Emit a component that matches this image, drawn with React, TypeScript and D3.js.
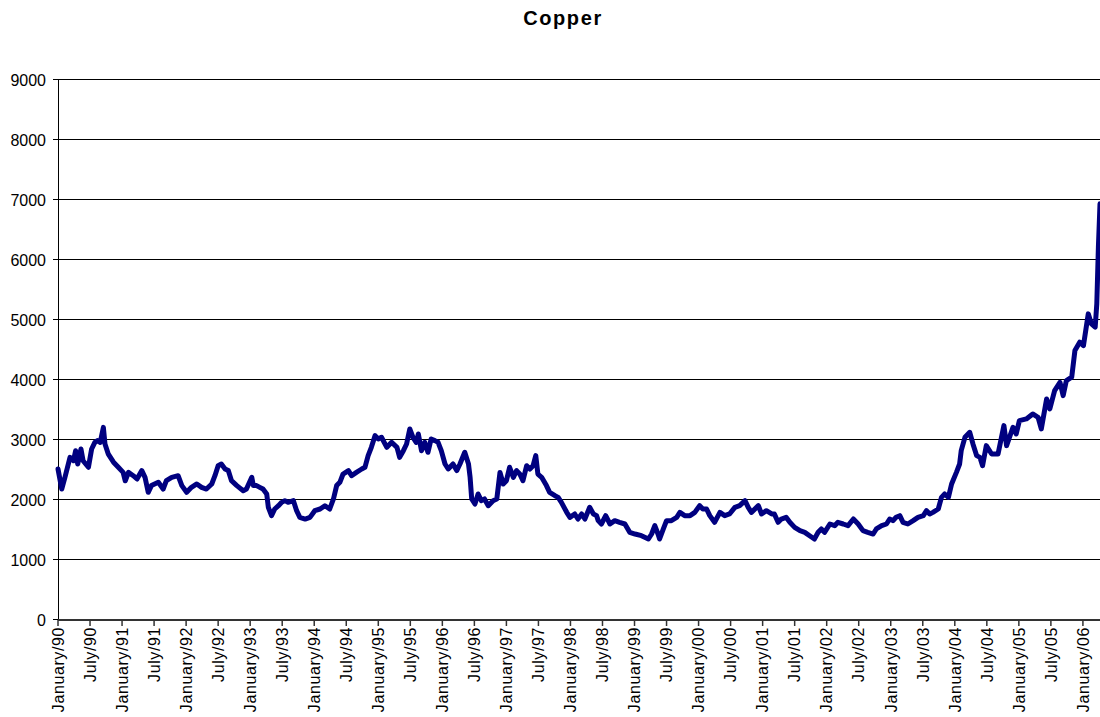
import React from "react";
import * as d3 from "d3";

// months elapsed since January 1990 (fractional) and copper price
const months = [
  0, 0.7, 1.3, 2.25, 2.9, 3.3, 3.7, 4.3, 4.7, 5.7, 6.3, 6.9, 7.4, 7.9, 8.5, 8.8, 9.4, 10.4, 11.3,
  12.2, 12.6, 13.2, 14.1, 14.8, 15.7, 16.3, 16.9, 17.5, 18.8, 19.7, 20.3, 21.3, 22.5, 23.2,
  24.1, 25, 26, 26.9, 27.8, 28.8, 29.4, 30, 30.6, 31.3, 31.9, 32.5, 33.5, 34.7, 35.3,
  36.3, 36.6, 37.2, 37.8, 38.4, 39.1, 39.4, 40, 40.6, 41.3, 41.9, 42.5, 43.1, 44.1, 44.7, 45.3, 46.3, 47.2,
  48.1, 49.1, 50, 50.9, 51.6, 52.2, 52.8, 53.4, 54.4, 55, 55.9, 56.9, 57.5, 58.1, 58.7, 59.4,
  60, 60.6, 61.6, 62.5, 63.5, 64, 64.7, 65.3, 65.9, 66.5, 67.1, 67.5, 68.1, 68.7, 69.3, 69.9, 70.6, 71.2, 71.8,
  72.5, 73.1, 74, 74.7, 75.3, 76.2, 76.9, 77.2, 77.5, 78.1, 78.7, 79.3, 79.9, 80.6, 81.5, 82.2, 82.8, 83.4,
  84, 84.6, 85.3, 85.9, 86.5, 87.1, 87.8, 88.4, 89, 89.5, 89.9, 90.6, 91.5, 92.1, 93.1, 93.7, 94.3, 95.3, 95.9,
  96.8, 97.4, 98.1, 98.7, 99.6, 100.3, 100.9, 101.2, 101.8, 102.6, 103.4, 104.3, 105.2, 106.2, 107.1,
  108.1, 109.3, 110.6, 111.2, 111.8, 112.4, 112.7, 113.4, 114, 114.9, 115.9, 116.5, 117.4, 118.4, 119.3,
  120.2, 120.8, 121.5, 122.1, 123, 124, 124.9, 125.8, 126.8, 127.7, 128.7, 129.3, 129.9, 131.2, 131.8,
  132.7, 133.7, 134.2, 134.9, 135.5, 136.4, 137.1, 138, 139, 139.9, 140.8, 141.7, 142.4, 143, 143.6,
  144.6, 145.5, 146.1, 147.1, 148, 149, 149.9, 150.8, 151.7, 152.7, 153.3, 154.3, 155.2, 155.8,
  156.4, 157, 157.7, 158.3, 159.2, 160.2, 161.1, 162.1, 162.7, 163.3, 163.9, 164.9, 165.5, 166.1, 166.8, 167.4,
  168.3, 168.9, 169.2, 169.9, 170.8, 171.4, 172.1, 172.7, 173.2, 173.9, 174.9, 176.1, 177.2, 177.7, 178.9, 179.5,
  180.1, 181.4, 182.6, 183.6, 184.2, 185.2, 185.8, 186.7, 187.7, 188.3, 188.9, 189.9, 190.5, 191.4,
  192.1, 193, 193.6, 194.3, 194.6, 194.9, 195.2,
];

const prices = [
  2517, 2183, 2378, 2711, 2655, 2822, 2600, 2850, 2655, 2545, 2850, 2960, 2990, 2960, 3210, 2935, 2770, 2630, 2545,
  2460, 2320, 2460, 2405, 2350, 2490, 2378, 2128, 2240, 2295, 2183, 2322, 2378, 2405, 2240,
  2128, 2211, 2267, 2211, 2183, 2267, 2405, 2572, 2600, 2517, 2490, 2322, 2240, 2155, 2183,
  2378, 2240, 2240, 2211, 2183, 2100, 1878, 1739, 1850, 1905, 1961, 1989, 1961, 1989, 1822, 1711, 1683, 1711,
  1822, 1850, 1905, 1850, 2017, 2240, 2295, 2433, 2490, 2405, 2460, 2517, 2545, 2739, 2878, 3073,
  3017, 3045, 2878, 2962, 2878, 2711, 2822, 2934, 3184, 3045, 2960, 3100, 2822, 2962, 2795, 3017, 2990, 2962, 2822,
  2600, 2517, 2600, 2490, 2600, 2795, 2600, 2378, 2017, 1933, 2100, 1989, 2017, 1905, 1989, 2017, 2460, 2267,
  2322, 2545, 2378, 2490, 2433, 2322, 2572, 2517, 2572, 2739, 2433, 2378, 2240, 2128, 2072, 2044, 1961, 1795, 1711,
  1767, 1683, 1767, 1683, 1878, 1767, 1739, 1656, 1600, 1739, 1600, 1656, 1628, 1600, 1461,
  1433, 1405, 1350, 1433, 1572, 1433, 1350, 1517, 1656, 1656, 1711, 1794, 1739, 1739, 1794,
  1906, 1850, 1850, 1739, 1628, 1794, 1739, 1767, 1878, 1906, 1989, 1878, 1794, 1906, 1767,
  1822, 1767, 1767, 1628, 1683, 1711, 1628, 1544, 1489, 1461, 1405, 1350, 1461, 1517, 1461,
  1600, 1572, 1628, 1600, 1572, 1683, 1600, 1489, 1461, 1433, 1517, 1572, 1600, 1683,
  1656, 1711, 1739, 1628, 1600, 1656, 1711, 1739, 1822, 1767, 1794, 1850, 2044, 2100, 2044, 2267,
  2461, 2600, 2822, 3045, 3128, 2934, 2739, 2711, 2572, 2906, 2767, 2767, 3240, 2906, 3212, 3101,
  3323, 3351, 3434, 3379, 3184, 3684, 3518, 3823, 3962, 3740, 3990, 4046, 4490, 4630,
  4574, 5102, 4935, 4880, 5269, 6214, 6937,
];

const yTicks = [0, 1000, 2000, 3000, 4000, 5000, 6000, 7000, 8000, 9000];

const xTickLabels = [
  "January/90", "July/90", "January/91", "July/91", "January/92", "July/92",
  "January/93", "July/93", "January/94", "July/94", "January/95", "July/95",
  "January/96", "July/96", "January/97", "July/97", "January/98", "July/98",
  "January/99", "July/99", "January/00", "July/00", "January/01", "July/01",
  "January/02", "July/02", "January/03", "July/03", "January/04", "July/04",
  "January/05", "July/05", "January/06",
];

const FONT = "'Liberation Sans', Arial, Helvetica, sans-serif";

export default function App() {
  const W = 1100;
  const H = 717;
  const left = 58;
  const right = 1100;
  const top = 80;
  const bottom = 620;

  const x = d3.scaleLinear().domain([0, 195.2]).range([left, right]);
  const y = d3.scaleLinear().domain([0, 9000]).range([bottom, top]);

  const pts = months.map((m, i) => [m, prices[i]] as [number, number]);
  const linePath = d3
    .line<[number, number]>()
    .x((d) => x(d[0]))
    .y((d) => y(d[1]))(pts) as string;

  return (
    <svg
      width={W}
      height={H}
      style={{ position: "absolute", left: 0, top: 0, display: "block", background: "#fff" }}
      fontFamily={FONT}
    >
      <rect x={0} y={0} width={W} height={H} fill="#fff" />
      <text
        x={563}
        y={25}
        textAnchor="middle"
        fontSize={20}
        fontWeight="bold"
        letterSpacing={1.6}
        fill="#000"
      >
        Copper
      </text>

      {/* gridlines */}
      {yTicks
        .filter((t) => t > 0)
        .map((t) => (
          <line
            key={"g" + t}
            x1={left}
            x2={right}
            y1={Math.round(y(t)) - 0.5}
            y2={Math.round(y(t)) - 0.5}
            stroke="#000"
            strokeWidth={1}
          />
        ))}

      {/* y axis */}
      <line x1={left + 0.5} x2={left + 0.5} y1={top - 1} y2={bottom} stroke="#000" strokeWidth={1} />
      {yTicks.map((t) => (
        <g key={"yt" + t}>
          <line
            x1={left - 5}
            x2={left}
            y1={Math.round(y(t)) - 0.5}
            y2={Math.round(y(t)) - 0.5}
            stroke="#000"
            strokeWidth={1}
          />
          <text
            x={46}
            y={y(t)}
            dy="0.36em"
            textAnchor="end"
            fontSize={16}
            fill="#000"
          >
            {t}
          </text>
        </g>
      ))}

      {/* data line */}
      <path
        d={linePath}
        fill="none"
        stroke="#000080"
        strokeWidth={5}
        strokeLinejoin="round"
        strokeLinecap="round"
      />

      {/* x axis */}
      <line x1={left} x2={right} y1={bottom} y2={bottom} stroke="#333" strokeWidth={2} />
      {xTickLabels.map((lab, i) => {
        const xp = x(i * 6);
        return (
          <g key={"xt" + i}>
            <line x1={xp} x2={xp} y1={bottom} y2={bottom + 6} stroke="#333" strokeWidth={1.5} />
            <text
              transform={`translate(${xp},${bottom + 7}) rotate(-90)`}
              dy="0.36em"
              textAnchor="end"
              fontSize={16}
              letterSpacing={0.6}
              fill="#000"
            >
              {lab}
            </text>
          </g>
        );
      })}
    </svg>
  );
}
